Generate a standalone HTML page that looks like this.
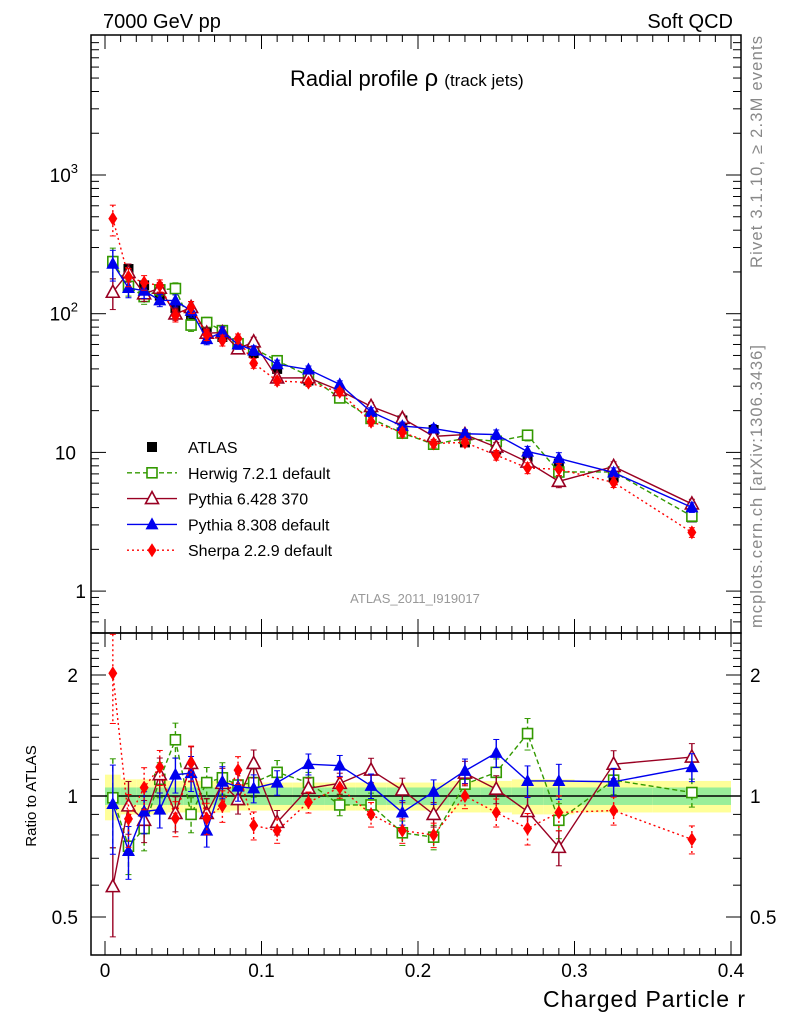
<!DOCTYPE html>
<html><head><meta charset="utf-8"><style>
body{margin:0;background:#fff}
svg{display:block;font-family:"Liberation Sans",sans-serif}
</style></head><body>
<svg id="c" width="786" height="1024" viewBox="0 0 786 1024" xmlns="http://www.w3.org/2000/svg">
<text x="103" y="28" font-size="20">7000 GeV pp</text>
<text x="733" y="28" font-size="20" text-anchor="end">Soft QCD</text>
<text x="290" y="86" font-size="22">Radial profile <tspan font-size="24">ρ</tspan> <tspan font-size="17">(track jets)</tspan></text>
<text transform="translate(762,268) rotate(-90)" font-size="16.5" fill="#888" textLength="232">Rivet 3.1.10, ≥ 2.3M events</text>
<text transform="translate(762,628) rotate(-90)" font-size="16.5" fill="#888" textLength="283">mcplots.cern.ch [arXiv:1306.3436]</text>
<text x="415" y="603" font-size="13" fill="#999" text-anchor="middle">ATLAS_2011_I919017</text>
<text transform="translate(36,796) rotate(-90)" font-size="15" text-anchor="middle">Ratio to ATLAS</text>
<text x="745" y="1007" font-size="23" text-anchor="end" textLength="202">Charged Particle r</text>
<g id="g"></g>
</svg>
<script>
const xs=[0.005,0.015,0.025,0.035,0.045,0.055,0.065,0.075,0.085,0.095,0.11,0.13,0.15,0.17,0.19,0.21,0.23,0.25,0.27,0.29,0.325,0.375];
const atlas=[240,210,160,135,110,92,80,68,57,52,40,33,26,18.5,17,14.5,11.8,10.5,9.3,8.3,6.6,3.4];
const herwigRatio=[0.99,0.75,0.83,1.10,1.38,0.90,1.08,1.11,1.065,1.08,1.145,1.08,0.95,0.95,0.81,0.79,1.07,1.145,1.43,0.87,1.095,1.02];
const py6Ratio=[0.595,0.945,0.87,1.13,0.905,1.205,0.905,1.075,0.98,1.205,0.86,1.045,1.075,1.16,1.035,0.90,1.14,1.04,0.915,0.745,1.20,1.25];
const py8Ratio=[0.955,0.73,0.915,0.925,1.13,1.14,0.82,1.085,1.055,1.045,1.08,1.20,1.19,1.06,0.91,1.025,1.155,1.28,1.09,1.09,1.085,1.18];
const sherpaRatio=[2.02,0.877,1.05,1.18,0.88,1.21,0.88,0.945,1.16,0.845,0.82,0.965,1.05,0.90,0.82,0.80,1.0,0.91,0.83,0.91,0.92,0.78];
const mcErr=[0.25,0.15,0.12,0.1,0.1,0.1,0.09,0.09,0.08,0.08,0.07,0.06,0.06,0.07,0.07,0.07,0.07,0.08,0.09,0.1,0.08,0.08];
const bandInner=[0.05,0.05,0.05,0.05,0.05,0.05,0.05,0.05,0.05,0.05,0.05,0.05,0.05,0.05,0.05,0.05,0.05,0.05,0.05,0.05,0.05,0.05];
const bandOuter=[0.13,0.1,0.1,0.1,0.09,0.09,0.09,0.09,0.08,0.08,0.08,0.08,0.08,0.08,0.08,0.08,0.09,0.09,0.1,0.1,0.09,0.09];
const xTicks=[0,0.1,0.2,0.3,0.4];
const xTickLabels=["0","0.1","0.2","0.3","0.4"];

const L=91,R=741,T=35,M=633,B=955;
const X=v=>105+v*1565;
const YT=v=>175-(Math.log10(v)-3)*138.7;
const YR=v=>796-Math.log2(v)*121;
const g=document.getElementById('g');
const NS='http://www.w3.org/2000/svg';
function el(t,a,p){const e=document.createElementNS(NS,t);for(const k in a)e.setAttribute(k,a[k]);(p||g).appendChild(e);return e;}
function halfW(i){return xs[i]<0.1?0.005:(xs[i]<0.3?0.01:0.025);}

for(let i=0;i<xs.length;i++){
  const x0=X(xs[i]-halfW(i)),x1=X(xs[i]+halfW(i));
  const b1=el('rect',{x:x0,y:YR(1+bandOuter[i]),width:x1-x0,height:YR(1-bandOuter[i])-YR(1+bandOuter[i]),fill:'#ffff99'});
  
  
  const b2=el('rect',{x:x0,y:YR(1+bandInner[i]),width:x1-x0,height:YR(1-bandInner[i])-YR(1+bandInner[i]),fill:'#99ee99'});
  
  
}
el('line',{x1:L,x2:R,y1:YR(1),y2:YR(1),stroke:'#000','stroke-width':1.5});

el('rect',{x:L,y:T,width:R-L,height:M-T,fill:'none',stroke:'#000','stroke-width':1.5});
el('rect',{x:L,y:M,width:R-L,height:B-M,fill:'none',stroke:'#000','stroke-width':1.5});

for(let k=0;k<=40;k++){const v=k/100,x=X(v);if(x>R)break;const len=k%10===0?14:7;
  [[B,-1],[M,1],[M,-1],[T,1]].forEach(([y,d])=>el('line',{x1:x,x2:x,y1:y,y2:y+d*len,stroke:'#000','stroke-width':1}));}
xTicks.forEach((v,i)=>{const t=el('text',{x:X(v),y:977,'font-size':19,'text-anchor':'middle'});t.textContent=xTickLabels[i];
  
  });
for(let d=-1;d<=3;d++)for(let m=1;m<10;m++){const v=m*Math.pow(10,d),y=YT(v);if(y<T||y>M)continue;const len=m===1?15:8;
  el('line',{x1:L,x2:L+len,y1:y,y2:y,stroke:'#000'});el('line',{x1:R,x2:R-len,y1:y,y2:y,stroke:'#000'});}
[[1000,'10','3'],[100,'10','2'],[10,'10',''],[1,'1','']].forEach(([v,b,e])=>{const t=el('text',{x:e?68:(b==='10'?76:86),y:YT(v)+7,'font-size':19,'text-anchor':'end'});
  t.innerHTML=b+(e?'<tspan dy="-9" font-size="13">'+e+'</tspan>':'');
  
  
  if(e)t.setAttribute('x',78);});
for(let v=0.4;v<=2.5;v+=0.1){const y=YR(v);if(y<M||y>B)continue;const maj=Math.abs(v-0.5)<1e-6||Math.abs(v-1)<1e-6||Math.abs(v-2)<1e-6;const len=maj?15:8;
  el('line',{x1:L,x2:L+len,y1:y,y2:y,stroke:'#000'});el('line',{x1:R,x2:R-len,y1:y,y2:y,stroke:'#000'});}
[[2,'2'],[1,'1'],[0.5,'0.5']].forEach(([v,s])=>{[[78,'end'],[750,'start']].forEach(([x,a])=>{const t=el('text',{x:x,y:YR(v)+7,'font-size':19,'text-anchor':a});t.textContent=s;
  
  });});

function marker(type,x,y,col,parent){
  if(type==='sq')el('rect',{x:x-5,y:y-5,width:10,height:10,fill:'#000'},parent);
  if(type==='osq')el('rect',{x:x-5,y:y-5,width:10,height:10,fill:'#fff',stroke:col,'stroke-width':1.6},parent);
  if(type==='otri')el('polygon',{points:`${x},${y-7} ${x-6.5},${y+5} ${x+6.5},${y+5}`,fill:'#fff',stroke:col,'stroke-width':1.6},parent);
  if(type==='tri')el('polygon',{points:`${x},${y-7} ${x-6.5},${y+5} ${x+6.5},${y+5}`,fill:col},parent);
  if(type==='dia')el('polygon',{points:`${x},${y-7} ${x-4.5},${y} ${x},${y+7} ${x+4.5},${y}`,fill:col},parent);
}
const series=[
 {name:'herwig',ratio:herwigRatio,col:'#339900',dash:'5,3',m:'osq'},
 {name:'pythia6',ratio:py6Ratio,col:'#990022',dash:'',m:'otri'},
 {name:'pythia8',ratio:py8Ratio,col:'#0000ee',dash:'',m:'tri'},
 {name:'sherpa',ratio:sherpaRatio,col:'#ff0000',dash:'2,3',m:'dia'}];
function drawSeries(s,topVals,Yf){
  const grp=el('g',{});
  
  
  let pts=xs.map((x,i)=>X(x)+','+Yf(topVals[i])).join(' ');
  el('polyline',{points:pts,fill:'none',stroke:s.col,'stroke-width':1.4,'stroke-dasharray':s.dash},grp);
  xs.forEach((x,i)=>{const v=topVals[i],e=mcErr[i];const y1=Yf(v*(1+e)),y2=Yf(v*(1-e));
    el('line',{x1:X(x),x2:X(x),y1:y1,y2:y2,stroke:s.col,'stroke-width':1.4,'stroke-dasharray':s.dash},grp);
    el('line',{x1:X(x)-3,x2:X(x)+3,y1:y1,y2:y1,stroke:s.col},grp);
    el('line',{x1:X(x)-3,x2:X(x)+3,y1:y2,y2:y2,stroke:s.col},grp);
    marker(s.m,X(x),Yf(v),s.col,grp);});
}
const ag=el('g',{});


xs.forEach((x,i)=>marker('sq',X(x),YT(atlas[i]),'#000',ag));
series.forEach(s=>{drawSeries(s,xs.map((x,i)=>atlas[i]*s.ratio[i]),YT);drawSeries(s,s.ratio,YR);});

const leg=[['ATLAS','sq','#000',''],['Herwig 7.2.1 default','osq','#339900','5,3'],['Pythia 6.428 370','otri','#990022',''],['Pythia 8.308 default','tri','#0000ee',''],['Sherpa 2.2.9 default','dia','#ff0000','2,3']];
leg.forEach((l,i)=>{const y=447+i*25.8;const lg=el('g',{});
  
  
  if(i>0)el('line',{x1:127,x2:177,y1:y,y2:y,stroke:l[2],'stroke-width':1.4,'stroke-dasharray':l[3]},lg);
  marker(l[1],152,y,l[2],lg);
  const t=el('text',{x:188,y:y+6,'font-size':16},lg);t.textContent=l[0];});
</script>
</body></html>
